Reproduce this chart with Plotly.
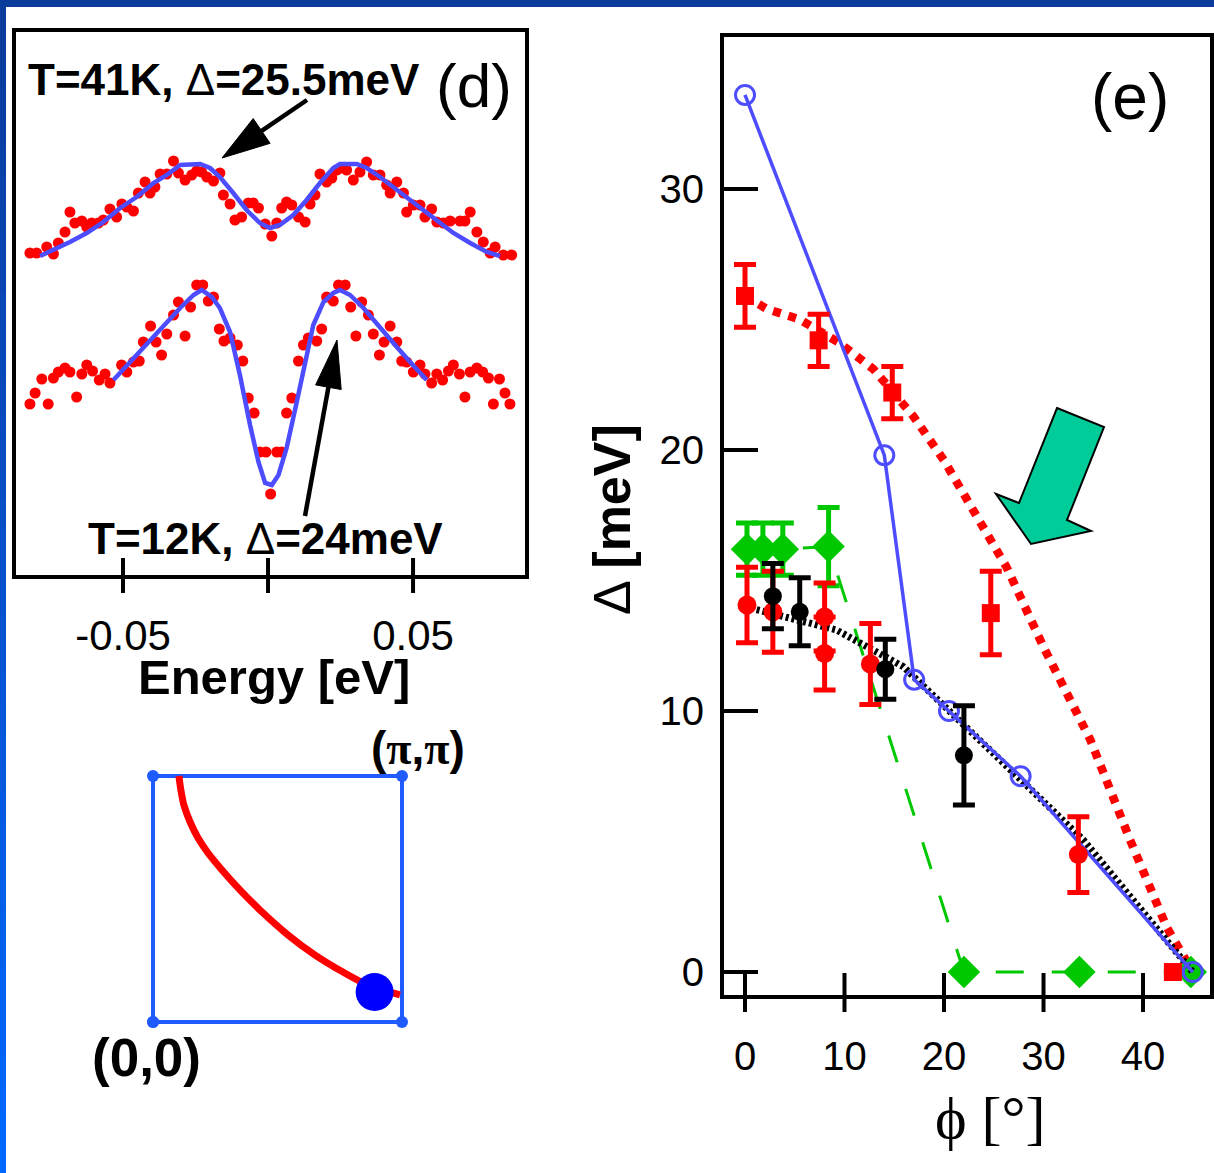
import math
import plotly.graph_objects as go

W, H = 1214, 1173

# ---------------- Panel (d): symmetrized spectra (energy in eV, intensity arb. units)
e41_dots = [-0.0821, -0.0798, -0.0763, -0.0740, -0.0723, -0.0700, -0.0683, -0.0666, -0.0642, -0.0625,
            -0.0608, -0.0585, -0.0568, -0.0545, -0.0522, -0.0504, -0.0487, -0.0464, -0.0447, -0.0424,
            -0.0407, -0.0390, -0.0372, -0.0349, -0.0326, -0.0309, -0.0286, -0.0263, -0.0246, -0.0229,
            -0.0211, -0.0188, -0.0166, -0.0154, -0.0131, -0.0114, -0.0091, -0.0068, -0.0051, -0.0033,
            -0.0010, 0.0013, 0.0030, 0.0047, 0.0064, 0.0082, 0.0105, 0.0128, 0.0145, 0.0162,
            0.0179, 0.0202, 0.0220, 0.0237, 0.0254, 0.0271, 0.0294, 0.0317, 0.0340, 0.0363,
            0.0386, 0.0409, 0.0421, 0.0444, 0.0467, 0.0478, 0.0501, 0.0524, 0.0541, 0.0564,
            0.0582, 0.0605, 0.0628, 0.0662, 0.0679, 0.0697, 0.0720, 0.0742, 0.0766, 0.0783,
            0.0811, 0.0840]
i41_dots = [3.24, 3.24, 3.30, 3.23, 3.34, 3.45, 3.65, 3.54, 3.56, 3.50,
            3.54, 3.54, 3.57, 3.68, 3.60, 3.73, 3.70, 3.66, 3.84, 3.95,
            3.84, 3.90, 4.03, 4.03, 4.16, 4.04, 3.97, 4.02, 4.06, 4.05,
            4.00, 3.96, 4.04, 3.82, 3.73, 3.57, 3.60, 3.74, 3.74, 3.69,
            3.53, 3.41, 3.54, 3.69, 3.75, 3.72, 3.60, 3.55, 3.73, 3.82,
            4.03, 3.95, 3.99, 4.07, 4.09, 4.07, 3.97, 4.05, 4.15, 4.02,
            4.02, 3.92, 3.84, 3.95, 3.84, 3.65, 3.72, 3.72, 3.60, 3.68,
            3.55, 3.54, 3.56, 3.56, 3.56, 3.65, 3.45, 3.35, 3.24, 3.30,
            3.22, 3.22]
e41_fit = [-0.0786, -0.0740, -0.0683, -0.0625, -0.0568, -0.0510, -0.0453, -0.0395, -0.0349, -0.0303,
           -0.0234, -0.0200, -0.0166, -0.0120, -0.0074, -0.0028, 0.0007, 0.0041, 0.0087, 0.0133,
           0.0179, 0.0225, 0.0248, 0.0306, 0.0340, 0.0386, 0.0432, 0.0478, 0.0524, 0.0582,
           0.0639, 0.0697, 0.0754, 0.0800]
i41_fit = [3.21, 3.27, 3.35, 3.44, 3.55, 3.69, 3.80, 3.94, 4.02, 4.12,
           4.13, 4.09, 4.00, 3.84, 3.67, 3.54, 3.49, 3.52, 3.62, 3.77,
           3.94, 4.09, 4.13, 4.13, 4.09, 4.00, 3.90, 3.80, 3.70, 3.57,
           3.44, 3.34, 3.25, 3.21]

e12_dots = [-0.0821, -0.0803, -0.0780, -0.0758, -0.0740, -0.0723, -0.0700, -0.0683, -0.0660, -0.0642,
            -0.0625, -0.0605, -0.0582, -0.0562, -0.0545, -0.0505, -0.0487, -0.0464, -0.0444, -0.0430,
            -0.0405, -0.0386, -0.0367, -0.0349, -0.0326, -0.0309, -0.0286, -0.0267, -0.0246, -0.0225,
            -0.0206, -0.0188, -0.0168, -0.0152, -0.0131, -0.0106, -0.0087, -0.0068, -0.0048, -0.0028,
            -0.0007, 0.0009, 0.0030, 0.0047, 0.0064, 0.0082, 0.0105, 0.0122, 0.0139, 0.0168,
            0.0185, 0.0202, 0.0225, 0.0243, 0.0266, 0.0285, 0.0303, 0.0323, 0.0346, 0.0363,
            0.0384, 0.0400, 0.0421, 0.0444, 0.0461, 0.0478, 0.0501, 0.0524, 0.0541, 0.0564,
            0.0582, 0.0602, 0.0622, 0.0639, 0.0660, 0.0679, 0.0697, 0.0720, 0.0740, 0.0760,
            0.0777, 0.0798, 0.0817, 0.0834]
i12_dots = [1.73, 1.84, 1.98, 1.73, 1.99, 2.05, 2.09, 2.05, 1.80, 2.03,
            2.12, 2.06, 1.97, 2.03, 1.94, 2.12, 2.05, 2.15, 2.16, 2.35,
            2.51, 2.35, 2.22, 2.43, 2.62, 2.75, 2.41, 2.70, 2.92, 2.92,
            2.76, 2.80, 2.48, 2.36, 2.39, 2.32, 2.16, 1.79, 1.64, 1.25,
            1.25, 0.83, 1.25, 1.25, 1.64, 1.79, 2.16, 2.32, 2.39, 2.36,
            2.48, 2.80, 2.76, 2.92, 2.92, 2.70, 2.41, 2.75, 2.62, 2.43,
            2.22, 2.35, 2.51, 2.35, 2.16, 2.15, 2.05, 2.12, 2.03, 1.94,
            2.03, 1.97, 2.06, 2.12, 2.03, 1.80, 2.05, 2.09, 2.05, 1.99,
            1.73, 1.98, 1.84, 1.73]
e12_fit = [-0.0533, -0.0476, -0.0418, -0.0361, -0.0303, -0.0257, -0.0229, -0.0194, -0.0166, -0.0131,
           -0.0097, -0.0062, -0.0033, -0.0010, 0.0013, 0.0036, 0.0064, 0.0099, 0.0128, 0.0156,
           0.0191, 0.0225, 0.0248, 0.0283, 0.0329, 0.0386, 0.0444, 0.0490, 0.0547]
i12_fit = [1.97, 2.15, 2.32, 2.50, 2.69, 2.82, 2.87, 2.80, 2.69, 2.45,
           2.02, 1.52, 1.15, 0.94, 0.92, 1.02, 1.29, 1.75, 2.15, 2.52,
           2.75, 2.84, 2.87, 2.82, 2.69, 2.49, 2.30, 2.15, 1.97]

d_xticks = [-0.05, 0.0, 0.05]
d_xticktext = ["-0.05", "", "0.05"]

# ---------------- Panel (e): gap vs Fermi-surface angle
phi_blue = [0, 14, 17, 20.5, 27.7, 45]
gap_blue = [33.6, 19.8, 11.2, 10.0, 7.5, 0]

phi_red_sq = [0, 7.4, 14.8, 24.7, 43]
gap_red_sq = [25.9, 24.2, 22.2, 13.75, 0]
err_red_sq = [1.2, 1.0, 1.0, 1.6]

phi_red_fit = [0, 2.2, 5.5, 9.5, 12.9, 16.9, 20, 22.9, 26.3, 30, 34.7, 38.7, 42.4, 45]
gap_red_fit = [25.9, 25.4, 25.0, 24.1, 23.1, 21.3, 19.6, 17.7, 15.5, 12.45, 8.9, 5.06, 1.7, 0]

phi_red_c = [0.2, 2.8, 8.0, 8.0, 12.6, 33.5]
gap_red_c = [14.06, 13.8, 13.6, 12.2, 11.8, 4.5]
err_red_c = [1.45, 1.55, 1.3, 1.4, 1.55, 1.45]

phi_blk = [2.8, 5.5, 14.1, 22.0]
gap_blk = [14.4, 13.8, 11.6, 8.3]
err_blk = [1.25, 1.3, 1.15, 1.9]

phi_blk_fit = [0, 9.2, 15.9, 23.9, 34, 45]
gap_blk_fit = [14.0, 13.1, 11.7, 8.8, 5.06, 0]

phi_grn = [0.2, 1.8, 3.8, 8.4, 22, 33.6, 44.8]
gap_grn = [16.2, 16.2, 16.2, 16.3, 0, 0, 0]
err_grn = [1.0, 1.0, 1.0, 1.5]

e_xticks = [0, 10, 20, 30, 40]
e_yticks = [0, 10, 20, 30]

# ---------------- Inset: Brillouin-zone quadrant (units of pi)
bz_kx = [0, 1, 1, 0, 0]
bz_ky = [0, 0, 1, 1, 0]
fs_kx = [0.104, 0.112, 0.124, 0.149, 0.181, 0.221, 0.277, 0.349, 0.438, 0.542, 0.651, 0.763, 0.871, 0.992]
fs_ky = [1.000, 0.943, 0.882, 0.813, 0.748, 0.687, 0.618, 0.537, 0.447, 0.354, 0.272, 0.203, 0.146, 0.110]
kpt_x = [0.89]
kpt_y = [0.122]

# ---------------- styling
SANS = "Liberation Sans, Arial, Helvetica, sans-serif"
SERIF = "Liberation Serif, Times New Roman, serif"
BLUEFIT = "#4d4dff"
RED = "#ff0000"
GREEN = "#00c800"
BZBLUE = "#1f5bff"


def fx(p):
    return p / W


def fy(p):
    return 1 - p / H


fig = go.Figure()

# panel (d)
for ed, idd, ef, iff in [(e41_dots, i41_dots, e41_fit, i41_fit), (e12_dots, i12_dots, e12_fit, i12_fit)]:
    fig.add_trace(go.Scatter(x=ed, y=idd, mode="markers", xaxis="x", yaxis="y",
                             marker=dict(color=RED, size=11, line=dict(width=0)), cliponaxis=False))
    fig.add_trace(go.Scatter(x=ef, y=iff, mode="lines", xaxis="x", yaxis="y",
                             line=dict(color=BLUEFIT, width=4.5)))

# panel (e)
fig.add_trace(go.Scatter(x=phi_red_fit, y=gap_red_fit, mode="lines", xaxis="x2", yaxis="y2",
                         line=dict(color=RED, width=8.5, dash="8px,8px"), cliponaxis=False))
fig.add_trace(go.Scatter(x=phi_grn, y=gap_grn, mode="lines+markers", xaxis="x2", yaxis="y2",
                         line=dict(color=GREEN, width=3, dash="28px,28px"),
                         marker=dict(symbol="diamond", size=25, color=GREEN),
                         error_y=dict(type="data", array=err_grn, color=GREEN, thickness=5, width=11, visible=True),
                         cliponaxis=False))
fig.add_trace(go.Scatter(x=phi_blk_fit, y=gap_blk_fit, mode="lines", xaxis="x2", yaxis="y2",
                         line=dict(color="black", width=7, dash="3px,3px"), cliponaxis=False))
fig.add_trace(go.Scatter(x=phi_blue, y=gap_blue, mode="lines+markers", xaxis="x2", yaxis="y2",
                         line=dict(color=BLUEFIT, width=3.5),
                         marker=dict(symbol="circle-open", size=19, color=BLUEFIT, line=dict(width=3, color=BLUEFIT)),
                         cliponaxis=False))
fig.add_trace(go.Scatter(x=phi_red_sq, y=gap_red_sq, mode="markers", xaxis="x2", yaxis="y2",
                         marker=dict(symbol="square", size=18, color=RED),
                         error_y=dict(type="data", array=err_red_sq, color=RED, thickness=5, width=11, visible=True),
                         cliponaxis=False))
fig.add_trace(go.Scatter(x=phi_red_c, y=gap_red_c, mode="markers", xaxis="x2", yaxis="y2",
                         marker=dict(symbol="circle", size=19, color=RED),
                         error_y=dict(type="data", array=err_red_c, color=RED, thickness=5, width=11, visible=True),
                         cliponaxis=False))
fig.add_trace(go.Scatter(x=phi_blk, y=gap_blk, mode="markers", xaxis="x2", yaxis="y2",
                         marker=dict(symbol="circle", size=18, color="black"),
                         error_y=dict(type="data", array=err_blk, color="black", thickness=5, width=11, visible=True),
                         cliponaxis=False))

# inset
fig.add_trace(go.Scatter(x=bz_kx, y=bz_ky, mode="lines+markers", xaxis="x3", yaxis="y3",
                         line=dict(color=BZBLUE, width=4), marker=dict(color=BZBLUE, size=12),
                         cliponaxis=False))
fig.add_trace(go.Scatter(x=fs_kx, y=fs_ky, mode="lines", xaxis="x3", yaxis="y3",
                         line=dict(color=RED, width=7, shape="spline", smoothing=0.8), cliponaxis=False))
fig.add_trace(go.Scatter(x=kpt_x, y=kpt_y, mode="markers", xaxis="x3", yaxis="y3",
                         marker=dict(color="#0000ff", size=38), cliponaxis=False))

# ---------------- axes
frame = dict(showline=True, mirror=True, linewidth=4, linecolor="black", showgrid=False, zeroline=False)

fig.update_layout(
    xaxis=dict(domain=[fx(16), fx(525)], range=[-0.0869, 0.0886], anchor="y",
               tickvals=d_xticks, ticktext=d_xticktext, ticks="",
               tickfont=dict(family=SANS, size=42, color="black"), ticklabelstandoff=21, **frame),
    yaxis=dict(domain=[fy(575), fy(32)], range=[0.02, 5.45], anchor="x",
               showticklabels=False, ticks="", **frame),
    xaxis2=dict(domain=[fx(724), fx(1210)], range=[-2.11, 46.73], anchor="y2",
                tickvals=e_xticks, ticks="", tickfont=dict(family=SANS, size=40, color="black"),
                ticklabelstandoff=23, **frame),
    yaxis2=dict(domain=[fy(995), fy(37)], range=[-0.88, 35.82], anchor="x2",
                tickvals=e_yticks, ticks="inside", ticklen=34, tickwidth=4, tickcolor="black",
                tickfont=dict(family=SANS, size=40, color="black"), ticklabelstandoff=8, **frame),
    xaxis3=dict(domain=[fx(153 - 12.45), fx(402 + 12.45)], range=[-0.05, 1.05], anchor="y3", visible=False),
    yaxis3=dict(domain=[fy(1022 + 12.3), fy(776 - 12.3)], range=[-0.05, 1.05], anchor="x3", visible=False),
)

shapes = []
# tick marks crossing the bottom axes
for v in d_xticks:
    shapes.append(dict(type="line", xref="x", yref="y domain", x0=v, x1=v, ysizemode="pixel", yanchor=0,
                       y0=-18, y1=17, line=dict(color="black", width=4)))
for v in e_xticks:
    shapes.append(dict(type="line", xref="x2", yref="y2 domain", x0=v, x1=v, ysizemode="pixel", yanchor=0,
                       y0=-17, y1=22, line=dict(color="black", width=4)))


def poly(pts):
    return "M " + " L ".join(f"{fx(x):.5f},{fy(y):.5f}" for x, y in pts) + " Z"


def arrow(tail, tip, L, hw):
    dx, dy = tip[0] - tail[0], tip[1] - tail[1]
    n = math.hypot(dx, dy)
    ux, uy = dx / n, dy / n
    bx, by = tip[0] - L * ux, tip[1] - L * uy
    px_, py_ = -uy, ux
    head = [tip, (bx + hw * px_, by + hw * py_), (bx - hw * px_, by - hw * py_)]
    shaft = dict(type="line", xref="paper", yref="paper", x0=fx(tail[0]), y0=fy(tail[1]),
                 x1=fx(bx + 4 * ux), y1=fy(by + 4 * uy), line=dict(color="black", width=4.5))
    hd = dict(type="path", xref="paper", yref="paper", path=poly(head), fillcolor="black",
              line=dict(color="black", width=1))
    return [shaft, hd]


shapes += arrow((307, 100), (222, 158), 48, 15)
shapes += arrow((305, 516), (337, 340), 48, 13)

# big teal arrow in panel (e)
shapes.append(dict(type="path", xref="paper", yref="paper",
                   path=poly([(1057, 408), (1104, 427), (1067, 520), (1091, 531), (1031, 544), (996, 494), (1019, 503)]),
                   fillcolor="#00cc99", line=dict(color="black", width=2)))

# slide frame: top band and left band with a vertical gradient
shapes.append(dict(type="rect", xref="paper", yref="paper", x0=0, x1=1, y0=fy(7), y1=1,
                   fillcolor="#0b3b9b", line=dict(width=0), layer="below"))
N = 40
c0, c1 = (11, 59, 155), (0, 104, 255)
for k in range(N):
    t = k / (N - 1)
    col = "rgb(%d,%d,%d)" % tuple(round(a + (b - a) * t) for a, b in zip(c0, c1))
    shapes.append(dict(type="rect", xref="paper", yref="paper", x0=0, x1=fx(6),
                       y0=fy(H * (k + 1) / N + 1), y1=fy(H * k / N),
                       fillcolor=col, line=dict(width=0), layer="below"))

annotations = []


def ann(text, x, y, size, family=SANS, angle=0):
    annotations.append(dict(text=text, x=fx(x), y=fy(y), xref="paper", yref="paper", showarrow=False,
                            xanchor="center", yanchor="middle", textangle=angle,
                            font=dict(family=family, size=size, color="black")))


ann("<b>T=41K, </b>Δ<b>=25.5meV</b>", 224, 79, 44)
ann("(d)", 474, 86, 62)
ann("<b>T=12K, </b>Δ<b>=24meV</b>", 265, 538, 44)
ann("<b>Energy [eV]</b>", 274, 677, 49)
ann("Δ <b>[meV]</b>", 612, 520, 52, angle=-90)
ann("ϕ [°]", 990, 1118, 60, family=SERIF)
ann("(e)", 1130, 97, 64)
ann("<b>(<span style=\"font-family:'Liberation Serif'\">π</span>,"
    "<span style=\"font-family:'Liberation Serif'\">π</span>)</b>", 418, 748, 46)
ann("<b>(0,0)</b>", 146, 1057, 53)

fig.update_layout(width=W, height=H, margin=dict(l=0, r=0, t=0, b=0), paper_bgcolor="white",
                  plot_bgcolor="rgba(0,0,0,0)", showlegend=False, shapes=shapes, annotations=annotations)

fig.write_html("out.html", config={"displayModeBar": False},
               post_script="document.body.style.margin='0';")
